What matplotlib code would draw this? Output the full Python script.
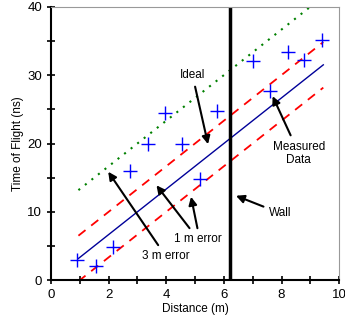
import matplotlib
matplotlib.use("Agg")
import matplotlib.pyplot as plt
import numpy as np

plt.rcParams['font.family'] = ['Liberation Sans', 'DejaVu Sans']

# Data
meas_d = [0.91, 1.55, 2.16, 2.73, 3.35, 3.94, 4.56, 5.16, 5.77, 7.0, 7.6, 8.21, 8.79, 9.42]
meas_t = [3.0, 2.05, 4.9, 16.0, 19.9, 24.4, 19.9, 14.75, 24.7, 32.1, 27.7, 33.4, 32.2, 35.2]
ideal_d = [0.95, 9.45]
slope = 3.335  # ns per m
err1_offsets = [1.0, -1.0]  # m
err3_offset = 3.0  # m
err3_d = [0.95, 9.45]
wall_x = 6.2

fig = plt.figure(figsize=(3.45, 3.28), dpi=100)
ax = fig.add_axes([0.148, 0.146, 0.835, 0.833])

ideal_t = [slope * d for d in ideal_d]
ax.plot(ideal_d, ideal_t, color='#000099', lw=1.0)
for off in err1_offsets:
    t = [slope * (d + off) for d in ideal_d]
    ax.plot(ideal_d, t, color='red', lw=1.3, dashes=(5, 4))
t3 = [slope * (d + err3_offset) for d in err3_d]
ax.plot(err3_d, t3, color='green', lw=1.5, ls=(0, (1, 3)))
ax.axvline(wall_x, color='black', lw=2.5)
ax.plot(meas_d, meas_t, ls='none', marker='+', color='blue', ms=10, mew=1.0)

ax.set_xlim(0, 10)
ax.set_ylim(0, 40)
ax.set_xticks([0, 2, 4, 6, 8, 10])
ax.set_xticks(np.arange(0, 11, 1), minor=True)
ax.set_yticks([0, 10, 20, 30, 40])
ax.set_yticks(np.arange(0, 41, 5), minor=True)
ax.tick_params(which='both', direction='inout', length=6, width=1.2, labelsize=9.5)
for s in ['left', 'bottom']:
    ax.spines[s].set_linewidth(1.5)
for s in ['top', 'right']:
    ax.spines[s].set_color('#999999')
    ax.spines[s].set_linewidth(0.8)
ax.set_xlabel('Distance (m)', fontsize=8.5, labelpad=1)
ax.set_ylabel('Time of Flight (ns)', fontsize=8.5, labelpad=2)

ap = dict(arrowstyle='-|>', color='black', lw=1.5, mutation_scale=12)
ax.annotate('Ideal', xy=(5.47, 19.5), xytext=(4.91, 30.0), fontsize=8.5,
            ha='center', va='center', arrowprops=ap)
ax.annotate('Measured\nData', xy=(7.65, 27.3), xytext=(8.6, 18.6), fontsize=8.5,
            ha='center', va='center', arrowprops=ap, linespacing=1.1)
ax.annotate('Wall', xy=(6.33, 12.5), xytext=(7.95, 9.8), fontsize=8.5,
            ha='center', va='center', arrowprops=ap)
ax.annotate('1 m error', xy=(3.6, 14.2), xytext=(5.1, 6.0), fontsize=8.5,
            ha='center', va='center', arrowprops=ap)
ax.annotate('', xy=(4.84, 12.6), xytext=(5.1, 7.2), arrowprops=ap)
ax.annotate('3 m error', xy=(1.93, 16.2), xytext=(3.98, 3.5), fontsize=8.5,
            ha='center', va='center', arrowprops=ap)

fig.savefig('out.png', dpi=100)
